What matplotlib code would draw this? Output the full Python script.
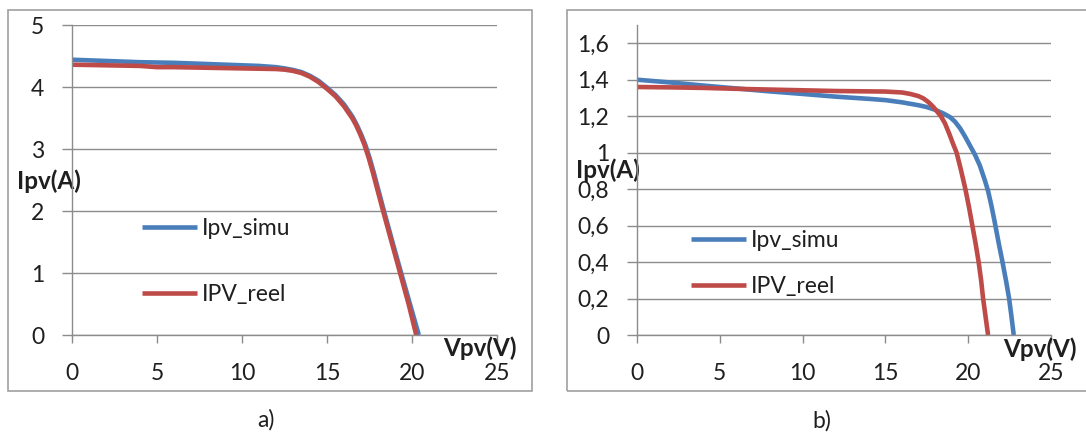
import matplotlib
matplotlib.use("Agg")
import matplotlib.pyplot as plt
from matplotlib.patches import Rectangle

# ---------------- data ----------------
# Panel a)
va_simu = [0, 2, 4, 6, 8, 10, 11, 12, 12.5, 13, 13.5, 14, 14.5, 15, 15.5, 16, 16.5, 16.75, 17, 17.25, 17.5, 17.75, 18, 18.35, 18.85, 19.36, 19.9, 20.4]
ia_simu = [4.44, 4.42, 4.40, 4.39, 4.37, 4.35, 4.34, 4.32, 4.30, 4.275, 4.24, 4.18, 4.10, 3.99, 3.87, 3.72, 3.52, 3.39, 3.24, 3.07, 2.86, 2.62, 2.36, 2.00, 1.50, 1.00, 0.48, 0.0]
va_reel = [0, 2, 4, 5, 6, 8, 10, 12, 12.5, 13, 13.5, 14, 14.5, 15, 15.5, 16, 16.5, 16.7, 16.95, 17.2, 17.45, 17.7, 17.95, 18.3, 18.8, 19.3, 19.8, 20.25]
ia_reel = [4.36, 4.35, 4.34, 4.32, 4.32, 4.31, 4.30, 4.29, 4.28, 4.26, 4.225, 4.165, 4.08, 3.97, 3.85, 3.69, 3.49, 3.39, 3.24, 3.07, 2.86, 2.62, 2.36, 2.00, 1.50, 1.00, 0.50, 0.0]

# Panel b)
vb_simu = [0, 2, 4, 6, 8, 10, 12, 14, 15, 16, 17, 17.5, 18, 18.5, 18.9, 19.2, 19.5, 19.8, 20.1, 20.4, 20.7, 21.0, 21.2, 21.4, 21.6, 21.85, 22.05, 22.3, 22.47, 22.6, 22.75]
ib_simu = [1.40, 1.385, 1.368, 1.352, 1.336, 1.322, 1.307, 1.295, 1.288, 1.276, 1.260, 1.250, 1.235, 1.215, 1.195, 1.170, 1.135, 1.090, 1.040, 0.990, 0.930, 0.850, 0.790, 0.710, 0.620, 0.500, 0.410, 0.290, 0.200, 0.110, 0.0]
vb_reel = [0, 2, 4, 6, 8, 10, 12, 14, 15, 16, 16.5, 17, 17.3, 17.6, 17.9, 18.1, 18.35, 18.6, 18.85, 19.1, 19.3, 19.55, 19.83, 20.05, 20.25, 20.45, 20.63, 20.78, 20.9, 21.05, 21.2]
ib_reel = [1.36, 1.358, 1.355, 1.350, 1.346, 1.342, 1.338, 1.336, 1.335, 1.330, 1.322, 1.310, 1.297, 1.277, 1.250, 1.228, 1.200, 1.160, 1.105, 1.045, 1.000, 0.910, 0.800, 0.700, 0.600, 0.500, 0.400, 0.300, 0.200, 0.100, 0.0]

xticks = [0, 5, 10, 15, 20, 25]
ya_ticks = [0, 1, 2, 3, 4, 5]
yb_ticks = [0, 0.2, 0.4, 0.6, 0.8, 1.0, 1.2, 1.4, 1.6]
yb_labels = ["0", "0,2", "0,4", "0,6", "0,8", "1", "1,2", "1,4", "1,6"]

label_simu = "Ipv_simu"
label_reel = "IPV_reel"

# ---------------- style ----------------
plt.rcParams['font.family'] = ['Lato', 'DejaVu Sans']
BLUE = "#4A7EBB"
RED = "#BE4B48"
GRID = "#8C8C8C"
FRAME = "#A0A0A0"
TXT = "#1F1F1F"
FS = 16.5
LW = 3.3

W, H = 1086, 434
fig = plt.figure(figsize=(W / 100, H / 100), dpi=100)


def fx(px):
    return px / W


def fy(py):
    return 1 - py / H


# outer frames
fig.patches.append(Rectangle((fx(8), fy(391)), fx(532) - fx(8), fy(10) - fy(391),
                             transform=fig.transFigure, fill=False, ec=FRAME, lw=1.2))
fig.patches.append(Rectangle((fx(567), fy(391)), fx(1100) - fx(567), fy(10) - fy(391),
                             transform=fig.transFigure, fill=False, ec=FRAME, lw=1.2))

axA = fig.add_axes([fx(72), fy(335), fx(497) - fx(72), fy(25) - fy(335)])
axB = fig.add_axes([fx(637), fy(335), fx(1051) - fx(637), fy(25) - fy(335)])


def style(ax, ymax, yticks, ylabels, ylab_xy, xlab_xy, leg_anchor, labelspacing):
    ax.set_xlim(0, 25)
    ax.set_ylim(0, ymax)
    ax.set_xticks(xticks)
    ax.set_xticklabels([str(t) for t in xticks])
    ax.set_yticks(yticks)
    ax.set_yticklabels(ylabels)
    for s in ['top', 'right']:
        ax.spines[s].set_visible(False)
    for s in ['left', 'bottom']:
        ax.spines[s].set_color(GRID)
        ax.spines[s].set_linewidth(1.0)
    ax.grid(axis='y', color=GRID, lw=1.0)
    ax.set_axisbelow(True)
    ax.tick_params(axis='y', length=7, width=1.0, color=GRID, pad=13,
                   labelsize=FS, labelcolor=TXT)
    ax.tick_params(axis='x', length=6, width=1.0, color=GRID, pad=14,
                   labelsize=FS, labelcolor=TXT)
    ax.set_ylabel("Ipv(A)", rotation=0, fontsize=17.5, fontweight='bold',
                  color=TXT, ha='center', va='center')
    ax.yaxis.set_label_coords(*ylab_xy)
    ax.set_xlabel("Vpv(V)", fontsize=17.5, fontweight='bold', color=TXT,
                  ha='center', va='center')
    ax.xaxis.set_label_coords(*xlab_xy)
    leg = ax.legend(loc='upper left', bbox_to_anchor=leg_anchor,
                    bbox_transform=fig.transFigure, frameon=False,
                    fontsize=FS, handlelength=2.4, handletextpad=0.2,
                    borderpad=0, borderaxespad=0, labelspacing=labelspacing)
    for t in leg.get_texts():
        t.set_color(TXT)


axA.plot(va_simu, ia_simu, color=BLUE, lw=LW, label=label_simu, solid_capstyle='butt', solid_joinstyle='round')
axA.plot(va_reel, ia_reel, color=RED, lw=LW, label=label_reel, solid_capstyle='butt', solid_joinstyle='round')
style(axA, 5, ya_ticks, [str(t) for t in ya_ticks],
      (-0.054, 0.497), (0.96, -0.042), (fx(142), fy(218)), 1.97)

axB.plot(vb_simu, ib_simu, color=BLUE, lw=LW, label=label_simu, solid_capstyle='butt', solid_joinstyle='round')
axB.plot(vb_reel, ib_reel, color=RED, lw=LW, label=label_reel, solid_capstyle='butt', solid_joinstyle='round')
style(axB, 1.7, yb_ticks, yb_labels,
      (-0.070, 0.532), (0.973, -0.045), (fx(691), fy(230)), 1.08)

fig.text(fx(266), fy(420), "a)", ha='center', va='center', fontsize=FS, color=TXT)
fig.text(fx(822), fy(421), "b)", ha='center', va='center', fontsize=FS, color=TXT)

fig.savefig("out.png", dpi=100)
